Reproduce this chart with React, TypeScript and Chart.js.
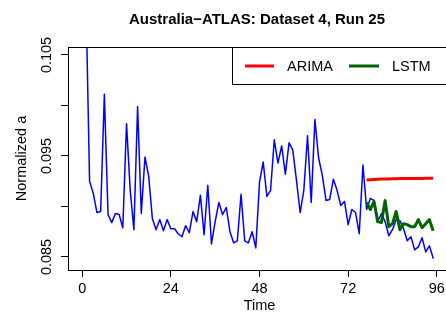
import React, { useEffect, useRef } from "react";
import { Chart, registerables } from "chart.js";

Chart.register(...registerables);

const TITLE = "Australia\u2212ATLAS: Dataset 4, Run 25";
const X_LABEL = "Time";
const Y_LABEL = "Normalized a";
const FONT = "'Liberation Sans', Arial, Helvetica, sans-serif";

const X_TICKS = [0, 24, 48, 72, 96];
const Y_TICKS = [0.085, 0.09, 0.095, 0.1, 0.105];
const Y_TICK_LABELS = ["0.085", "", "0.095", "", "0.105"];

const ACTUAL_START = 1;
const actual = [
  0.111, 0.0925, 0.0913, 0.0894, 0.0895, 0.1011, 0.0892, 0.0884, 0.0893, 0.0892,
  0.0879, 0.0982, 0.0916, 0.0877, 0.0999, 0.0893, 0.0949, 0.093, 0.0888, 0.0877,
  0.0887, 0.0876, 0.0887, 0.0878, 0.0878, 0.0873, 0.087, 0.0881, 0.0874, 0.0895,
  0.0885, 0.0911, 0.0872, 0.0921, 0.0863, 0.0885, 0.0904, 0.0892, 0.0899, 0.0875,
  0.0864, 0.0866, 0.0912, 0.0866, 0.0864, 0.0875, 0.0859, 0.0924, 0.0944, 0.091,
  0.0916, 0.0966, 0.0943, 0.096, 0.0932, 0.0963, 0.0956, 0.0926, 0.0894, 0.0916,
  0.097, 0.0904, 0.0986, 0.0948, 0.0931, 0.0906, 0.0907, 0.0927, 0.0916, 0.0901,
  0.0905, 0.0882, 0.0897, 0.0894, 0.0873, 0.0941, 0.0897, 0.0908, 0.0906, 0.0885,
  0.0893, 0.0885, 0.0871, 0.0877, 0.0887, 0.0886, 0.0878, 0.0866, 0.087, 0.0857,
  0.086, 0.0869, 0.0855, 0.0861, 0.0849,
];

const FORECAST_START = 77;
const arima = [
  0.09262, 0.09265, 0.09267, 0.09269, 0.09271, 0.09272, 0.09273, 0.09274, 0.09275,
  0.09276, 0.09276, 0.09277, 0.09277, 0.09278, 0.09278, 0.09278, 0.09279, 0.09279,
  0.09279,
];
const lstm = [
  0.0904, 0.0897, 0.0905, 0.0885, 0.0884, 0.0906, 0.088, 0.0883, 0.0895, 0.0877,
  0.0883, 0.0882, 0.088, 0.088, 0.0887, 0.0879, 0.0883, 0.0887, 0.0876,
];

const toPoints = (vals: number[], start: number) =>
  vals.map((v, i) => ({ x: start + i, y: v }));

const decoPlugin = {
  id: "deco",
  afterDraw(chart: any) {
    const { ctx, chartArea: ca, scales } = chart;
    const ys = scales.y;
    ctx.save();
    // box
    ctx.strokeStyle = "#000";
    ctx.lineWidth = 1;
    ctx.strokeRect(
      Math.round(ca.left) + 0.5,
      Math.round(ca.top) + 0.5,
      Math.round(ca.right - ca.left),
      Math.round(ca.bottom - ca.top)
    );
    ctx.fillStyle = "#000";
    // title
    ctx.font = `bold 15px ${FONT}`;
    ctx.textAlign = "center";
    ctx.textBaseline = "middle";
    ctx.fillText(TITLE, 257, 20);
    // x axis title
    ctx.font = `14.5px ${FONT}`;
    ctx.fillText(X_LABEL, (ca.left + ca.right) / 2, 306);
    // y tick labels (rotated)
    Y_TICKS.forEach((v, i) => {
      const lab = Y_TICK_LABELS[i];
      if (!lab) return;
      ctx.save();
      ctx.translate(47, ys.getPixelForValue(v));
      ctx.rotate(-Math.PI / 2);
      ctx.fillText(lab, 0, 0);
      ctx.restore();
    });
    // y axis title
    ctx.save();
    ctx.translate(22, (ca.top + ca.bottom) / 2);
    ctx.rotate(-Math.PI / 2);
    ctx.fillText(Y_LABEL, 0, 0);
    ctx.restore();
    // legend
    const lx = 232;
    const ly = Math.round(ca.top) + 0.5;
    const lh = 37;
    ctx.fillStyle = "#fff";
    ctx.fillRect(lx + 0.5, ly, ca.right - lx, lh);
    ctx.strokeStyle = "#000";
    ctx.lineWidth = 1;
    ctx.strokeRect(lx + 0.5, ly, ca.right - lx, lh);
    const cy = ly + lh / 2;
    ctx.lineWidth = 3;
    ctx.strokeStyle = "#FF0000";
    ctx.beginPath();
    ctx.moveTo(245, cy);
    ctx.lineTo(274, cy);
    ctx.stroke();
    ctx.strokeStyle = "#006400";
    ctx.beginPath();
    ctx.moveTo(349, cy);
    ctx.lineTo(379, cy);
    ctx.stroke();
    ctx.fillStyle = "#000";
    ctx.textAlign = "left";
    ctx.font = `14.5px ${FONT}`;
    ctx.fillText("ARIMA", 287, cy + 1);
    ctx.fillText("LSTM", 392, cy + 1);
    ctx.restore();
  },
};

export default function App() {
  const ref = useRef<HTMLCanvasElement | null>(null);
  useEffect(() => {
    if (!ref.current) return;
    const chart = new Chart(ref.current, {
      type: "line",
      data: {
        datasets: [
          {
            label: "Actual",
            data: toPoints(actual, ACTUAL_START),
            borderColor: "#0000FF",
            borderWidth: 1.5,
            pointRadius: 0,
            order: 3,
            borderJoinStyle: "round",
            borderCapStyle: "round",
          },
          {
            label: "ARIMA",
            data: toPoints(arima, FORECAST_START),
            borderColor: "#FF0000",
            borderWidth: 3,
            pointRadius: 0,
            order: 2,
            borderJoinStyle: "round",
          },
          {
            label: "LSTM",
            data: toPoints(lstm, FORECAST_START),
            borderColor: "#006400",
            borderWidth: 3,
            pointRadius: 0,
            order: 1,
            borderJoinStyle: "round",
          },
        ],
      },
      options: {
        responsive: false,
        animation: false,
        events: [],
        layout: { padding: { left: 0, right: 9, top: 47, bottom: 0 } },
        plugins: { legend: { display: false }, tooltip: { enabled: false }, title: { display: false } },
        scales: {
          x: {
            type: "linear",
            min: -3.84,
            max: 99.84,
            afterBuildTicks: (s: any) => {
              s.ticks = X_TICKS.map((v) => ({ value: v }));
            },
            afterFit: (s: any) => {
              s.height = 52;
            },
            grid: {
              drawOnChartArea: false,
              drawTicks: true,
              tickLength: 7,
              tickColor: "#000",
            },
            border: { display: false },
            ticks: {
              autoSkip: false,
              maxRotation: 0,
              minRotation: 0,
              color: "#000",
              padding: 3,
              font: { family: FONT, size: 14.5 },
              callback: (v: any) => String(v),
            },
          },
          y: {
            type: "linear",
            min: 0.08371,
            max: 0.10579,
            afterBuildTicks: (s: any) => {
              s.ticks = Y_TICKS.map((v) => ({ value: v }));
            },
            afterFit: (s: any) => {
              s.width = 68;
            },
            grid: {
              drawOnChartArea: false,
              drawTicks: true,
              tickLength: 7,
              tickColor: "#000",
            },
            border: { display: false },
            ticks: { display: false },
          },
        },
      },
      plugins: [decoPlugin],
    } as any);
    return () => chart.destroy();
  }, []);
  return (
    <div
      style={{
        position: "fixed",
        left: 0,
        top: 0,
        width: 446,
        height: 322,
        overflow: "hidden",
        background: "#fff",
      }}
    >
      <canvas ref={ref} width={460} height={322} style={{ display: "block" }} />
    </div>
  );
}
